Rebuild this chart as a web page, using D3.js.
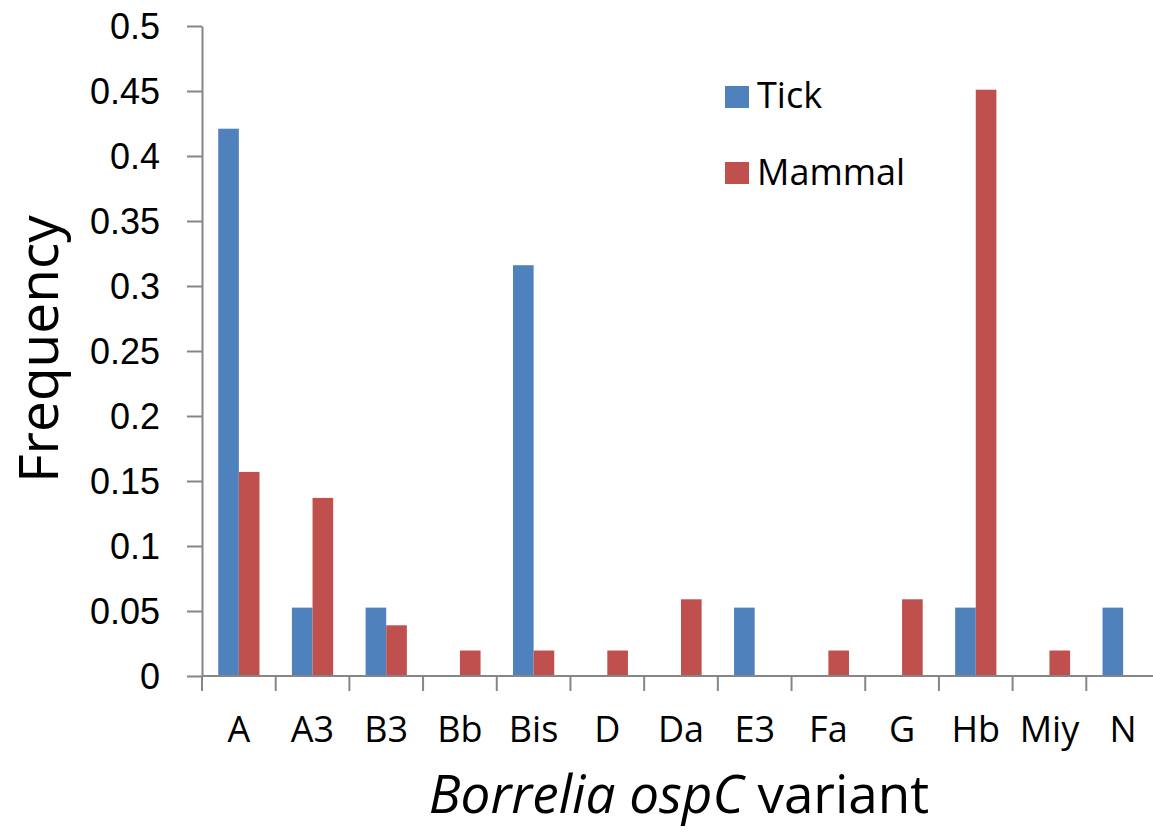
<!DOCTYPE html>
<html><head><meta charset="utf-8">
<script src="https://cdn.jsdelivr.net/npm/d3@7/dist/d3.min.js"></script>
<style>
html,body{margin:0;padding:0;background:#fff;overflow:hidden;}
svg{display:block;font-family:"Open Sans",sans-serif;}
</style></head><body>
<script>
const categories = ["A","A3","B3","Bb","Bis","D","Da","E3","Fa","G","Hb","Miy","N"];
const tickValues = [0.421,0.0526,0.0526,0,0.316,0,0,0.0526,0,0,0.0526,0,0.0526];
const mammalValues = [0.157,0.137,0.039,0.0196,0.0196,0.0196,0.059,0,0.0196,0.059,0.451,0.0196,0];
const seriesNames = ["Tick","Mammal"];
const seriesColors = ["#4F81BD","#C0504D"];
const yTicks = [0,0.05,0.1,0.15,0.2,0.25,0.3,0.35,0.4,0.45,0.5];
const yTickLabels = ["0","0.05","0.1","0.15","0.2","0.25","0.3","0.35","0.4","0.45","0.5"];

const W=1153,H=834;
const m={left:202,top:26,right:1160,bottom:676};
const svg=d3.select("body").append("svg").attr("width",W).attr("height",H);

const x=d3.scaleBand().domain(categories).range([m.left,m.right]).paddingInner(0.44).paddingOuter(0.22);
const xs=d3.scaleBand().domain(seriesNames).range([0,x.bandwidth()]);
const y=d3.scaleLinear().domain([0,0.5]).range([m.bottom,m.top]);

// bars
const series=[tickValues,mammalValues];
series.forEach((vals,si)=>{
  svg.append("g").selectAll("rect").data(categories.map((c,i)=>({c,v:vals[i]}))).join("rect")
    .attr("x",d=>x(d.c)+xs(seriesNames[si]))
    .attr("y",d=>y(d.v))
    .attr("width",xs.bandwidth())
    .attr("height",d=>y(0)-y(d.v))
    .attr("fill",seriesColors[si]);
});

// y axis
const yAxis=d3.axisLeft(y).tickValues(yTicks).tickFormat((d,i)=>yTickLabels[i]).tickSize(15).tickSizeOuter(0);
const gy=svg.append("g").attr("transform",`translate(${m.left},0)`).call(yAxis);
gy.select(".domain").attr("stroke","#868686").attr("stroke-width",2);
gy.selectAll(".tick line").attr("stroke","#868686").attr("stroke-width",2);
gy.selectAll(".tick text").attr("font-size",36).attr("fill","#000").attr("x",-42).attr("dy","0.35em");

// x axis with boundary ticks
const boundaries=d3.range(categories.length+1).map(i=>m.left+i*(m.right-m.left)/categories.length);
const gx=svg.append("g");
gx.append("line").attr("x1",m.left).attr("x2",m.right).attr("y1",y(0)).attr("y2",y(0)).attr("stroke","#868686").attr("stroke-width",2);
gx.selectAll("line.bt").data(boundaries).join("line").attr("class","bt")
  .attr("x1",d=>d).attr("x2",d=>d).attr("y1",y(0)).attr("y2",y(0)+15).attr("stroke","#868686").attr("stroke-width",2);
gx.selectAll("text").data(categories).join("text")
  .attr("x",d=>x(d)+x.bandwidth()/2).attr("y",742)
  .attr("text-anchor","middle").attr("font-size",36).attr("fill","#000").text(d=>d);

// axis titles
svg.append("text").attr("transform","translate(58,349) rotate(-90)").attr("text-anchor","middle")
  .attr("font-size",55).attr("fill","#000").text("Frequency");
const xt=svg.append("text").attr("x",679).attr("y",813).attr("text-anchor","middle").attr("font-size",53).attr("fill","#000");
xt.append("tspan").attr("font-style","italic").text("Borrelia ospC");
xt.append("tspan").text(" variant");

// legend
const lg=svg.append("g");
seriesNames.forEach((s,i)=>{
  lg.append("rect").attr("x",725).attr("y",86+i*76).attr("width",24).attr("height",22).attr("fill",seriesColors[i]);
  lg.append("text").attr("x",757).attr("y",108+i*77).attr("font-size",36).attr("fill","#000").text(s);
});
</script>
</body></html>
